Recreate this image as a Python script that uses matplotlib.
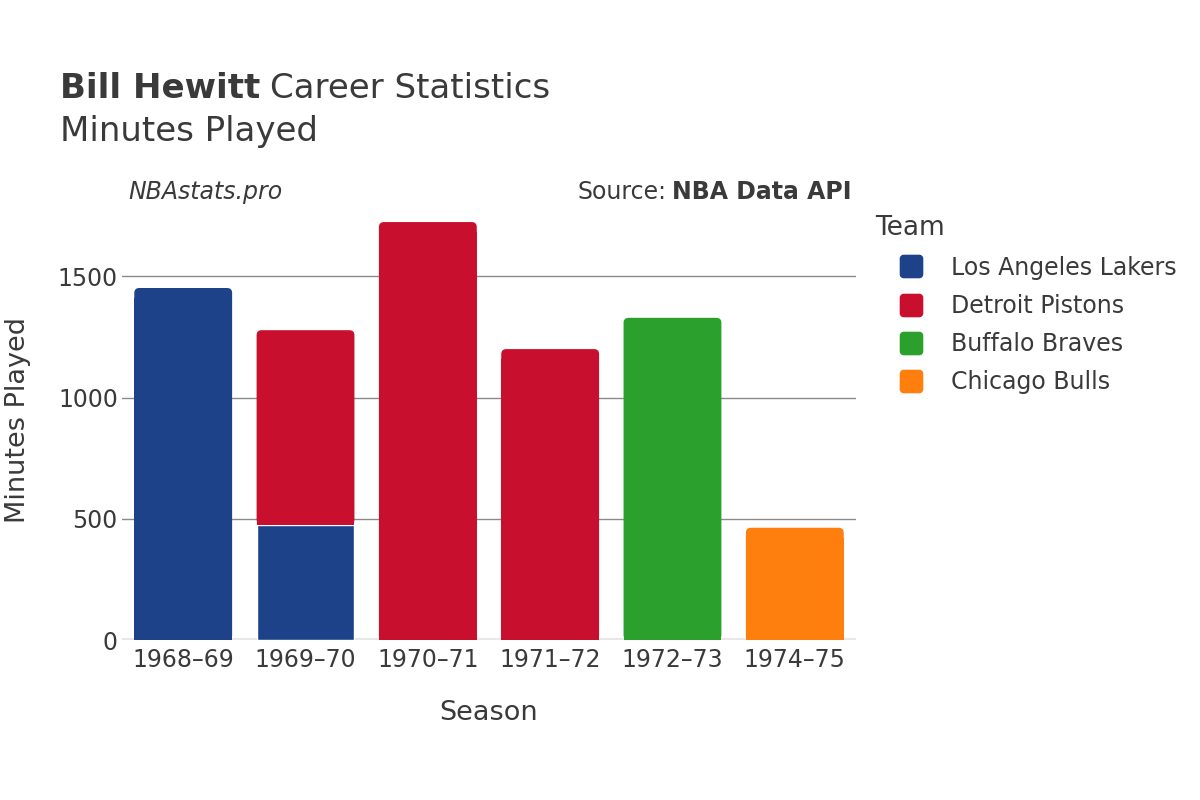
import matplotlib
matplotlib.use("Agg")
import matplotlib.pyplot as plt
import numpy as np
from matplotlib.lines import Line2D
from matplotlib.patches import FancyBboxPatch, Rectangle
from matplotlib.path import Path

seasons = ["1968–69", "1969–70", "1970–71", "1971–72", "1972–73", "1974–75"]
teams = ["Los Angeles Lakers", "Detroit Pistons", "Buffalo Braves", "Chicago Bulls"]
colors = ["#1D428A", "#C8102E", "#2CA02C", "#FF7F0E"]
lakers = [1452, 476, 0, 0, 0, 0]
pistons = [0, 802, 1724, 1200, 0, 0]
braves = [0, 0, 0, 0, 1329, 0]
bulls = [0, 0, 0, 0, 0, 463]
series = [lakers, pistons, braves, bulls]

plt.rcParams['font.family'] = ['DejaVu Sans']
txt = "#3a3a3a"

fig = plt.figure(figsize=(12, 8), dpi=100)
ax = fig.add_axes([0.1017, 0.2, 0.6116, 0.55])
ymax = 1815
ax.set_xlim(-0.5, len(seasons) - 0.5)
ax.set_ylim(0, ymax)

x = np.arange(len(seasons))
totals = np.sum(np.array(series, dtype=float), axis=0)
bottom = np.zeros(len(seasons))
ax_w_px = 0.6116 * 1200
ax_h_px = 0.55 * 800
r_px = 5
rx = r_px * len(seasons) / ax_w_px
ry = r_px * ymax / ax_h_px
for vals, col in zip(series, colors):
    v = np.array(vals, dtype=float)
    mask = v > 0
    bars = ax.bar(x[mask], v[mask], bottom=bottom[mask], width=0.8, color=col,
                  edgecolor="white", linewidth=1, zorder=3)
    for p, xi in zip(bars.patches, x[mask]):
        top = p.get_y() + p.get_height()
        if abs(top - totals[xi]) < 1e-6:
            p.set_visible(False)
            fb = FancyBboxPatch((p.get_x(), p.get_y()), p.get_width(), p.get_height(),
                                boxstyle=f"round,pad=0,rounding_size={rx}",
                                mutation_aspect=ry / rx, fc=col, ec="none", zorder=3)
            ax.add_patch(fb)
            ax.add_patch(Rectangle((p.get_x(), p.get_y()), p.get_width(),
                                   p.get_height() - 2 * ry, fc=col, ec="none", zorder=3))
    bottom += v

ax.set_yticks([0, 500, 1000, 1500])
ax.set_yticklabels(["0", "500", "1000", "1500"])
ax.set_xticks(x)
ax.set_xticklabels(seasons)
ax.tick_params(axis='both', length=0, labelsize=17, colors=txt)
ax.tick_params(axis='y', pad=3)
ax.tick_params(axis='x', pad=6)
ax.grid(axis='y', color="#8a8a8a", linewidth=1, zorder=0)
ax.axhline(0, color="#e8e8e8", linewidth=3, zorder=2)
for s in ax.spines.values():
    s.set_visible(False)

ax.set_xlabel("Season", fontsize=19.5, color=txt, labelpad=20)
ax.set_ylabel("Minutes Played", fontsize=19.5, color=txt)
ax.yaxis.set_label_coords((31 - 122) / ax_w_px, 0.5)

t1 = fig.text(60/1200, 1 - 88/800, "Bill Hewitt", fontsize=24.5, color=txt, va='center', ha='left', fontweight='bold')
fig.canvas.draw()
bb = t1.get_window_extent()
fig.text((bb.x1 + 10) / 1200, 1 - 88/800, "Career Statistics", fontsize=24.5, color=txt, va='center', ha='left')
fig.text(60/1200, 1 - 132/800, "Minutes Played", fontsize=24.5, color=txt, va='center', ha='left')

fig.text(128/1200, 1 - 192/800, "NBAstats.pro", fontsize=17, color=txt, va='center', ha='left', style='italic')
s2 = fig.text(852/1200, 1 - 192/800, "NBA Data API", fontsize=17, color=txt, va='center', ha='right', fontweight='bold')
fig.canvas.draw()
bb2 = s2.get_window_extent()
fig.text((bb2.x0 - 6) / 1200, 1 - 192/800, "Source:", fontsize=17, color=txt, va='center', ha='right')

# rounded-square legend marker
t = np.linspace(0, np.pi / 2, 8)
rr = 0.3
pts = []
for cx, cy, a0 in [(1 - rr, 1 - rr, 0), (-1 + rr, 1 - rr, np.pi / 2),
                   (-1 + rr, -1 + rr, np.pi), (1 - rr, -1 + rr, 3 * np.pi / 2)]:
    for a in t + a0:
        pts.append((cx + rr * np.cos(a), cy + rr * np.sin(a)))
pts.append(pts[0])
rsq = Path(pts, closed=True)

handles = [Line2D([0], [0], marker=rsq, linestyle='None', markersize=16,
                  markerfacecolor=c, markeredgecolor=c) for c in colors]
leg = fig.legend(handles, teams, loc='upper left', bbox_to_anchor=(866/1200, 1 - 206/800),
                 frameon=False, fontsize=17, title="Team", title_fontsize=19,
                 handlelength=3.0, handletextpad=0.2, labelspacing=0.6,
                 borderaxespad=0, alignment='left')
for tx in leg.get_texts():
    tx.set_color(txt)
leg.get_title().set_color(txt)

fig.savefig("out.png", dpi=100)
